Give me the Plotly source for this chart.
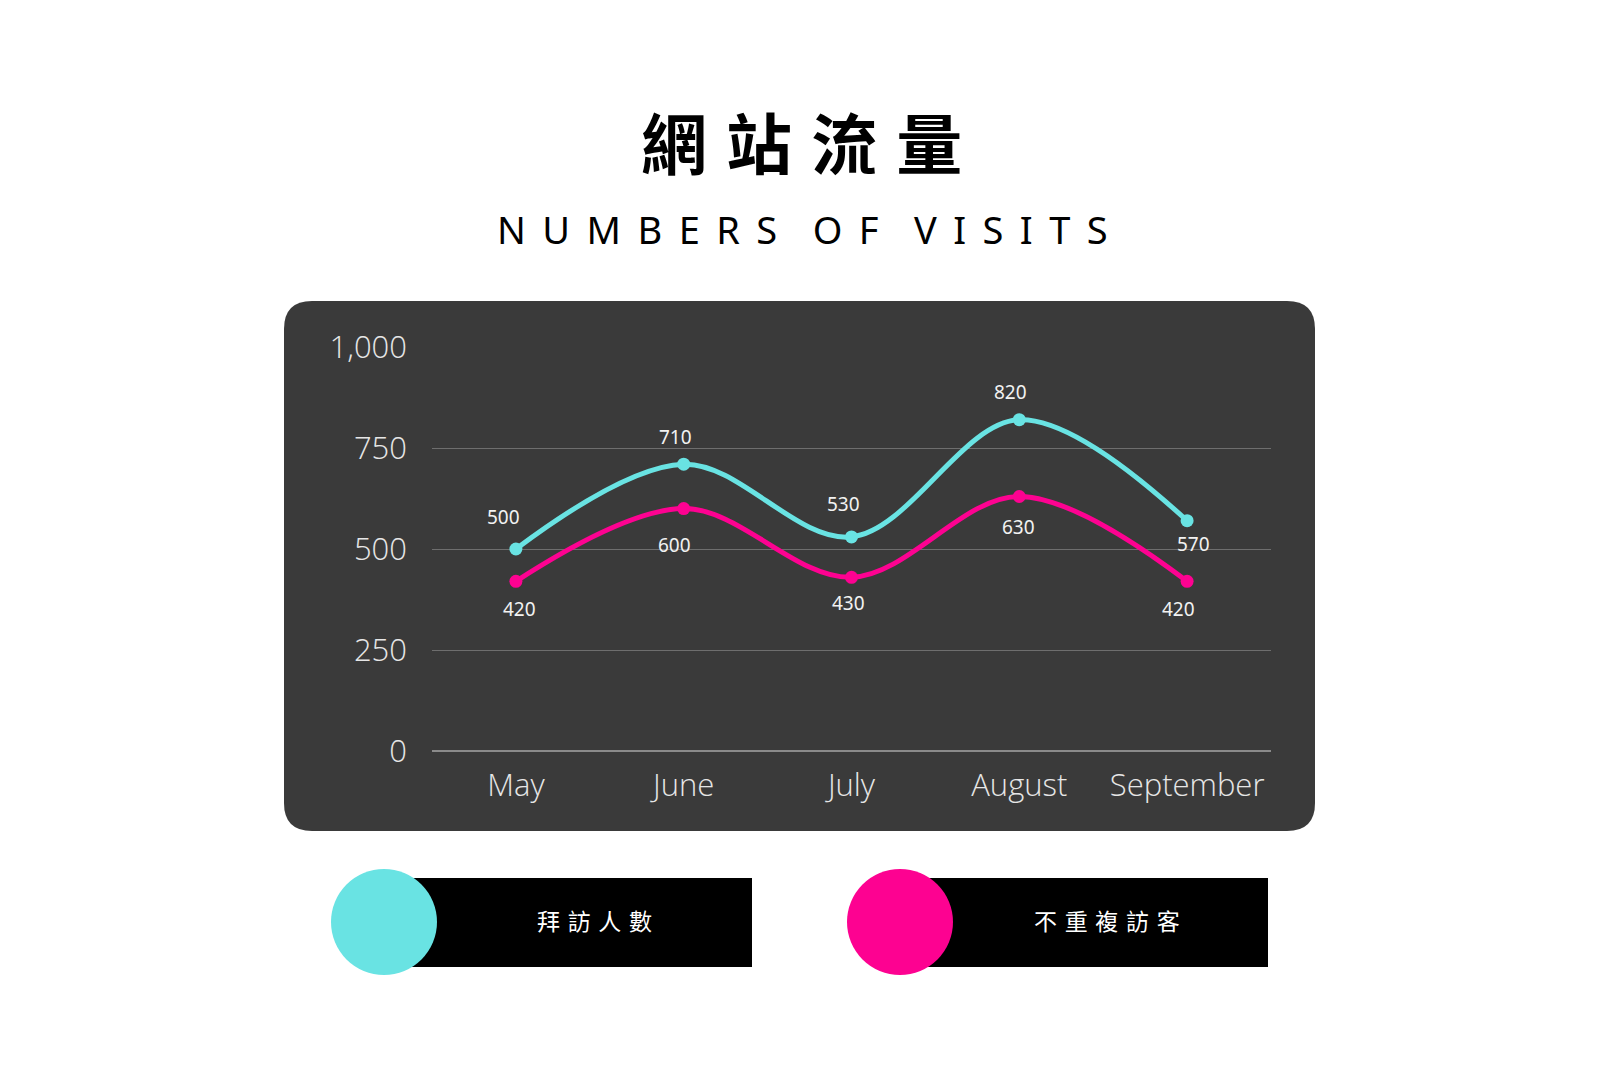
import plotly.graph_objects as go

# ---- data ----
months = ["May", "June", "July", "August", "September"]
visits = [500, 710, 530, 820, 570]
unique_visitors = [420, 600, 430, 630, 420]
y_ticks = [0, 250, 500, 750, 1000]
series_names = ["拜訪人數", "不重複訪客"]
title_text = "網站流量"
subtitle_words = ["NUMBERS", "OF", "VISITS"]

CYAN = "#69e3e3"
PINK = "#fd0291"
PANEL = "#3a3a3a"

W, H = 1600, 1066
# plot area in pixels
L, R, T, B = 432, 1271, 347, 751


def px_x(px):
    return (px - L) / (R - L)


def px_y(py):
    return (B - py) / (B - T)


def rounded_rect(x0, y0, x1, y1, r):
    # pixel box -> path in paper units
    ax0, ax1 = px_x(x0), px_x(x1)
    ay0, ay1 = px_y(y1), px_y(y0)  # bottom, top
    rx = r / (R - L)
    ry = r / (B - T)
    return (f"M {ax0+rx},{ay1} L {ax1-rx},{ay1} Q {ax1},{ay1} {ax1},{ay1-ry} "
            f"L {ax1},{ay0+ry} Q {ax1},{ay0} {ax1-rx},{ay0} "
            f"L {ax0+rx},{ay0} Q {ax0},{ay0} {ax0},{ay0+ry} "
            f"L {ax0},{ay1-ry} Q {ax0},{ay1} {ax0+rx},{ay1} Z")


def spaced(s, gap):
    return gap.join(list(s))


def legend_marker(x_left, x_right, color):
    # black bar with a big dot on its left end
    cx, cy, r = x_left + 1, 922, 53
    return [
        dict(type="rect", xref="paper", yref="paper",
             x0=px_x(x_left), x1=px_x(x_right), y0=px_y(967), y1=px_y(878),
             fillcolor="#000000", line=dict(width=0)),
        dict(type="circle", xref="paper", yref="paper",
             x0=px_x(cx - r), x1=px_x(cx + r), y0=px_y(cy + r), y1=px_y(cy - r),
             fillcolor=color, line=dict(width=0)),
    ]


fig = go.Figure()

fig.add_trace(go.Scatter(
    x=months, y=visits, name=series_names[0], mode="lines+markers",
    line=dict(color=CYAN, width=5, shape="spline", smoothing=1),
    marker=dict(color=CYAN, size=13), cliponaxis=False, showlegend=False,
))
fig.add_trace(go.Scatter(
    x=months, y=unique_visitors, name=series_names[1], mode="lines+markers",
    line=dict(color=PINK, width=5, shape="spline", smoothing=1),
    marker=dict(color=PINK, size=13), cliponaxis=False, showlegend=False,
))

# value labels
label_font = dict(family="Noto Sans", size=19, color="#f2f2f2")
cyan_shift = [(-12, 32), (-8, 27), (-8, 33), (-9, 28), (6, -23)]
pink_shift = [(4, -28), (-9, -36), (-3, -26), (-1, -31), (-9, -28)]
annotations = []
for m, v, (dx, dy) in zip(months, visits, cyan_shift):
    annotations.append(dict(x=m, y=v, text=str(v), showarrow=False,
                            xshift=dx, yshift=dy, font=label_font))
for m, v, (dx, dy) in zip(months, unique_visitors, pink_shift):
    annotations.append(dict(x=m, y=v, text=str(v), showarrow=False,
                            xshift=dx, yshift=dy, font=label_font))

# titles
letter_gap = "\u2004\u200a"
subtitle = (letter_gap + "\u2002").join(spaced(w, letter_gap) for w in subtitle_words)
annotations.append(dict(xref="paper", yref="paper", x=px_x(801), y=px_y(140),
                        xanchor="center", yanchor="middle",
                        text=spaced(title_text, " \u200a"), showarrow=False,
                        font=dict(family="Noto Sans CJK TC", size=66, color="#000000", weight=700)))
annotations.append(dict(xref="paper", yref="paper", x=px_x(802), y=px_y(229),
                        xanchor="center", yanchor="middle",
                        text=subtitle, showarrow=False,
                        font=dict(family="Noto Sans", size=38, color="#000000")))

# legend labels
legend_font = dict(family="Noto Sans CJK TC", size=23, color="#ffffff")
annotations.append(dict(xref="paper", yref="paper", x=px_x(594), y=px_y(920),
                        xanchor="center", yanchor="middle",
                        text=spaced(series_names[0], "\u2004"), showarrow=False, font=legend_font))
annotations.append(dict(xref="paper", yref="paper", x=px_x(1107), y=px_y(920),
                        xanchor="center", yanchor="middle",
                        text=spaced(series_names[1], "\u2004"), showarrow=False, font=legend_font))

shapes = [
    dict(type="path", xref="paper", yref="paper", layer="below",
         path=rounded_rect(284, 301, 1315, 831, 28),
         fillcolor=PANEL, line=dict(width=0)),
]
shapes += legend_marker(383, 752, CYAN)
shapes += legend_marker(899, 1268, PINK)

fig.update_layout(
    width=W, height=H, autosize=False,
    margin=dict(l=L, r=W - R, t=T, b=H - B, pad=0),
    paper_bgcolor="white",
    plot_bgcolor="rgba(0,0,0,0)",
    showlegend=False,
    shapes=shapes,
    annotations=annotations,
    xaxis=dict(
        range=[-0.5, 4.5], showgrid=False, zeroline=False,
        showline=False, ticks="", ticklabelstandoff=13,
        tickfont=dict(family="Open Sans", size=31, color="#e6e6e6", weight=300),
    ),
    yaxis=dict(
        range=[0, 1000], tickvals=y_ticks, tickformat=",",
        showgrid=True, gridcolor="#6e6e6e", gridwidth=1,
        zeroline=True, zerolinecolor="#8a8a8a", zerolinewidth=1.5,
        showline=False, ticks="", ticklabelstandoff=24,
        tickfont=dict(family="Open Sans", size=31, color="#e6e6e6", weight=300),
    ),
)

fig.write_html("out.html", config={"displayModeBar": False},
               post_script="document.body.style.margin='0';document.body.style.overflow='hidden';")
